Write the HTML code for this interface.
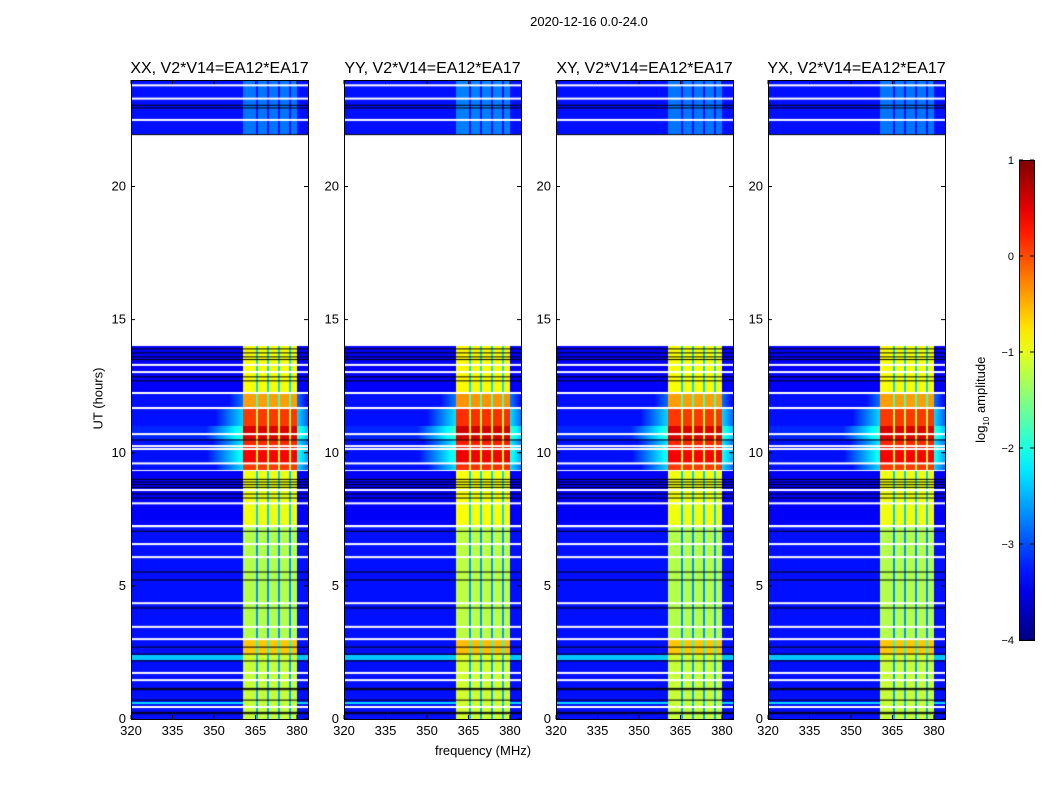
<!DOCTYPE html>
<html><head><meta charset="utf-8">
<style>
body{margin:0;background:#fff;font-family:"Liberation Sans",sans-serif;}
#root{position:relative;width:1050px;height:800px;overflow:hidden;background:#fff;}
canvas{position:absolute;}
.t{position:absolute;white-space:nowrap;color:#000;}
</style></head>
<body>
<div id="root">
<div class="t" style="left:489px;top:14px;width:200px;text-align:center;font-size:13px;">2020-12-16 0.0-24.0</div>
<div class="t" style="left:48px;top:391px;width:100px;text-align:center;font-size:13px;transform:rotate(-90deg);">UT (hours)</div>
<div class="t" style="left:383px;top:743px;width:200px;text-align:center;font-size:13px;">frequency (MHz)</div>
<div class="t" style="left:922px;top:391px;width:120px;text-align:center;font-size:13px;transform:rotate(-90deg);">log<sub style="font-size:8px">10</sub> amplitude</div>
<svg id="ov" width="1050" height="800" style="position:absolute;left:0;top:0"></svg>
</div>
<script>
// ---- data ----
const panelTitles = ["XX, V2*V14=EA12*EA17","YY, V2*V14=EA12*EA17","XY, V2*V14=EA12*EA17","YX, V2*V14=EA12*EA17"];
const panelLeft = [131,344,556,768];
const panelBandOffset = [0, 0.05, 0, 0];
const xTicks = [320,335,350,365,380];
const yTicks = [0,5,10,15,20];
const cbTicks = [1,0,-1,-2,-3,-4];
// time segments (hours) with background and band levels (log10 amplitude)
const segStart = [0,   0.55, 0.65, 2.2, 2.4, 3.0, 7.3, 9.35, 9.6, 10.2, 10.5, 11.0, 11.7, 12.3, 21.93];
const segEnd   = [0.55,0.65, 2.2,  2.4, 3.0, 7.2, 9.3, 9.6, 10.2, 10.5, 11.0, 11.7, 12.2, 14.0, 24.0];
const segBg    = [-3.3,-2.3, -3.3, -2.4,-3.3,-3.3,-3.4,-3.3,-3.3,-3.3,-3.2,-3.3,-3.3,-3.4,-3.3];
const segBand  = [-1.15,-1.15,-1.15,-1.1,-0.6,-1.25,-0.95,0.1, 0.4, 0.2, 0.55,0.1,-0.4,-0.9,-2.8];
// flagged rows
const whiteRows = [0.45,1.46,1.73,3.0,3.46,4.35,6.08,6.57,7.24,8.1,8.6,9.6,10.14,10.25,10.7,11.68,13.03,13.3,22.5,23.3,23.8];
const blackRows = [0.2,0.25,0.71,1.1,1.15,2.18,2.44,2.7,4.17,5.22,5.52,7.05,8.3,8.45,8.7,8.8,8.9,9.0,10.48,12.7,12.85,13.5,13.6,13.75,13.9,22.95,23.05,21.95];
// band geometry (MHz)
const bandLo = 360.5, bandHi = 380;
const bandStripes = [365.5,369.5,373.5,377.5];
const fMin = 320, fMax = 384, tMax = 24, vMin = -4, vMax = 1;

const T0 = 80, T1 = 719, PW = 177;
const yOf = t => T1 - t*(T1-T0)/tMax;
const xOf = (f,L) => L + (f-fMin)*PW/(fMax-fMin);

function jet(v){
  let x = (v - vMin)/(vMax - vMin); x = Math.max(0,Math.min(1,x));
  const c = a => Math.max(0,Math.min(1,a));
  return [c(1.5-Math.abs(4*x-3))*255, c(1.5-Math.abs(4*x-2))*255, c(1.5-Math.abs(4*x-1))*255];
}
function valueAt(t,f,off){
  let s=-1;
  for(let i=0;i<segStart.length;i++) if(t>=segStart[i] && t<segEnd[i]) {s=i;break;}
  if(s<0) return null;
  const bg = segBg[s], band = segBand[s]+off;
  if(f>=bandLo && f<=bandHi){
    for(const sf of bandStripes) if(Math.abs(f-sf)<0.3) return Math.max(bg, band-1.4);
    return band;
  }
  let halo = -99;
  if(band > -0.5){
    if(f<bandLo) halo = band-2.4-(bandLo-f)*0.1;
    else halo = band-2.4-(f-bandHi)*0.15;
  }
  return Math.max(bg,halo);
}
const root = document.getElementById('root');
panelLeft.forEach((L,p)=>{
  const cv = document.createElement('canvas');
  
  
  cv.width = PW; cv.height = T1-T0;
  cv.style.left = L+'px'; cv.style.top = T0+'px';
  const ctx = cv.getContext('2d');
  const img = ctx.createImageData(PW, T1-T0);
  for(let py=0;py<T1-T0;py++){
    const t = (T1-T0-py-0.5)*tMax/(T1-T0);
    for(let px=0;px<PW;px++){
      const f = fMin + (px+0.5)*(fMax-fMin)/PW;
      const v = valueAt(t,f,panelBandOffset[p]);
      const k=(py*PW+px)*4;
      if(v===null){img.data[k]=255;img.data[k+1]=255;img.data[k+2]=255;}
      else{const c=jet(v);img.data[k]=c[0];img.data[k+1]=c[1];img.data[k+2]=c[2];}
      img.data[k+3]=255;
    }
  }
  ctx.putImageData(img,0,0);
  ctx.fillStyle='#fff';
  whiteRows.forEach(t=>ctx.fillRect(0,yOf(t)-T0-1,PW,2));
  ctx.fillStyle='#000';
  blackRows.forEach(t=>ctx.fillRect(0,yOf(t)-T0-0.5,PW,1));
  root.insertBefore(cv, document.getElementById('ov'));
});
// overlay axes
const NS='http://www.w3.org/2000/svg';
const ov=document.getElementById('ov');
function el(tag,attrs,txt){const e=document.createElementNS(NS,tag);for(const k in attrs)e.setAttribute(k,attrs[k]);if(txt!==undefined)e.textContent=txt;ov.appendChild(e);return e;}
panelLeft.forEach((L,p)=>{
  const fr=el('rect',{x:L+0.5,y:T0+0.5,width:PW,height:T1-T0,fill:'none',stroke:'#000','stroke-width':1});
  
  
  const tt=el('text',{x:L+PW/2,y:73,'text-anchor':'middle','font-size':16,'font-family':'Liberation Sans'},panelTitles[p]);
  
  
  xTicks.forEach(f=>{
    const x=xOf(f,L);
    el('line',{x1:x,x2:x,y1:T1,y2:T1-4,stroke:'#000'});
    el('line',{x1:x,x2:x,y1:T0,y2:T0+4,stroke:'#000'});
    const lb=el('text',{x:x,y:T1+16,'text-anchor':'middle','font-size':13,'font-family':'Liberation Sans'},String(f));
    
    
  });
  yTicks.forEach(t=>{
    const y=yOf(t);
    el('line',{x1:L,x2:L+4,y1:y,y2:y,stroke:'#000'});
    el('line',{x1:L+PW,x2:L+PW-4,y1:y,y2:y,stroke:'#000'});
    const lb=el('text',{x:L-5,y:y+4,'text-anchor':'end','font-size':13,'font-family':'Liberation Sans'},String(t));
    
    
  });
});
// colorbar
const CBX=1019,CBW=15,CBT=160,CBB=640;
const defs=el('defs',{});
const grad=document.createElementNS(NS,'linearGradient');
grad.setAttribute('id','jetg');grad.setAttribute('x1','0');grad.setAttribute('y1','1');grad.setAttribute('x2','0');grad.setAttribute('y2','0');
defs.appendChild(grad);
for(let i=0;i<=20;i++){const v=vMin+(vMax-vMin)*i/20;const c=jet(v);const s=document.createElementNS(NS,'stop');s.setAttribute('offset',i/20);s.setAttribute('stop-color',`rgb(${c.map(Math.round).join(',')})`);grad.appendChild(s);}
const cb=el('rect',{x:CBX+0.5,y:CBT+0.5,width:CBW,height:CBB-CBT,fill:'url(#jetg)',stroke:'#000'});


cbTicks.forEach(v=>{
  const y=CBB-(v-vMin)*(CBB-CBT)/(vMax-vMin);
  el('line',{x1:CBX,x2:CBX+4,y1:y,y2:y,stroke:'#000'});
  el('line',{x1:CBX+CBW,x2:CBX+CBW-4,y1:y,y2:y,stroke:'#000'});
  const lb=el('text',{x:CBX-5,y:y+4,'text-anchor':'end','font-size':11,'font-family':'Liberation Sans'},v<0?'\u2212'+(-v):String(v));
  
  
});
</script>
</body></html>
